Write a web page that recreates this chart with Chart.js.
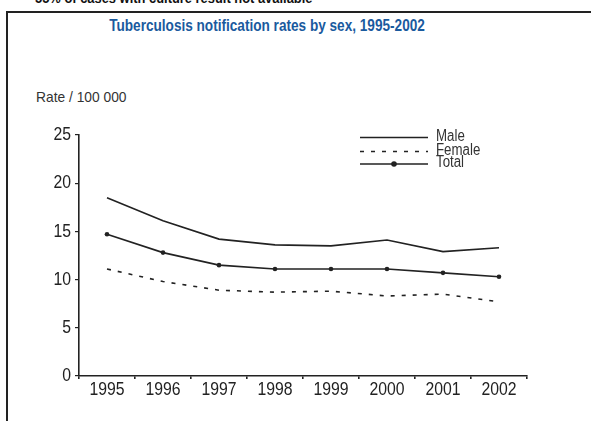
<!DOCTYPE html>
<html>
<head>
<meta charset="utf-8">
<script src="https://cdn.jsdelivr.net/npm/chart.js@4"></script>
<style>
  html, body { margin: 0; padding: 0; background: #fff; }
  #wrap { position: relative; width: 591px; height: 421px; overflow: hidden; background: #fff; }
  #frame { position: absolute; left: 6px; top: 11px; width: 700px; height: 500px; border-left: 2.5px solid #222; border-top: 2.5px solid #222; box-sizing: border-box; }
  .narrow { position: absolute; white-space: nowrap; font-family: "Liberation Sans", Arial, sans-serif; transform: scaleX(0.8); }
  #note { left: 35px; top: -11px; font-weight: bold; font-size: 15px; color: #111; transform-origin: left top; transform: scaleX(0.86); }
  #title { left: 0; width: 534px; top: 16px; text-align: center; font-weight: bold; font-size: 17px; color: #1a5a9e; transform-origin: center top; }
  #ytitle { left: 36px; top: 88px; font-size: 15px; color: #333; transform-origin: left top; transform: scaleX(0.92); }
  canvas { position: absolute; left: 0; top: 0; }
</style>
</head>
<body>
<div id="wrap">
  <div id="note" class="narrow">55% of cases with culture result not available</div>
  <div id="frame"></div>
  <div id="title" class="narrow">Tuberculosis notification rates by sex, 1995-2002</div>
  <div id="ytitle" class="narrow">Rate / 100 000</div>
  <canvas id="c" width="591" height="421"></canvas>
</div>
<script>
const years = ['1995', '1996', '1997', '1998', '1999', '2000', '2001', '2002'];
const male = [18.5, 16.1, 14.2, 13.6, 13.5, 14.1, 12.9, 13.3];
const female = [11.1, 9.8, 8.9, 8.7, 8.8, 8.3, 8.5, 7.7];
const total = [14.7, 12.8, 11.5, 11.1, 11.1, 11.1, 10.7, 10.3];
const yTicks = [0, 5, 10, 15, 20, 25];

const FONT = '"Liberation Sans", Arial, sans-serif';
const INK = '#222';
const SQUEEZE = 0.83;

function narrowText(ctx, text, x, y, align) {
  ctx.save();
  ctx.translate(x, y);
  ctx.scale(SQUEEZE, 1);
  ctx.textAlign = align;
  ctx.fillText(text, 0, 0);
  ctx.restore();
}

const labelPlugin = {
  id: 'narrowLabels',
  afterDraw(chart) {
    const ctx = chart.ctx;
    const xs = chart.scales.x, ys = chart.scales.y;
    ctx.save();
    ctx.fillStyle = '#222';
    ctx.font = '19px ' + FONT;
    ctx.textBaseline = 'middle';
    xs.ticks.forEach((t, i) => {
      narrowText(ctx, xs.getLabelForValue(t.value), xs.getPixelForTick(i), xs.top + 14, 'center');
    });
    ys.ticks.forEach((t, i) => {
      narrowText(ctx, String(t.value), ys.right - 8, ys.getPixelForValue(t.value), 'right');
    });
    ctx.restore();
  }
};

const legendPlugin = {
  id: 'innerLegend',
  afterDraw(chart) {
    const ctx = chart.ctx;
    const x0 = 360, x1 = 428, tx = 436;
    const rows = [137.5, 151.5, 164];
    ctx.save();
    chart.data.datasets.forEach((ds, i) => {
      const y = rows[i];
      ctx.strokeStyle = ds.borderColor;
      ctx.lineWidth = ds.borderWidth;
      ctx.setLineDash(ds.borderDash || []);
      ctx.beginPath();
      ctx.moveTo(x0, y);
      ctx.lineTo(x1, y);
      ctx.stroke();
      ctx.setLineDash([]);
      if (ds.pointRadius > 0) {
        ctx.fillStyle = ds.pointBackgroundColor;
        ctx.beginPath();
        ctx.arc((x0 + x1) / 2, y, ds.pointRadius + 0.5, 0, Math.PI * 2);
        ctx.fill();
      }
      ctx.fillStyle = '#333';
      ctx.font = '16px ' + FONT;
      ctx.textBaseline = 'middle';
      narrowText(ctx, ds.label, tx, y - 1, 'left');
    });
    ctx.restore();
  }
};

new Chart(document.getElementById('c'), {
  type: 'line',
  data: {
    labels: years,
    datasets: [
      { label: 'Male', data: male, borderColor: INK, borderWidth: 1.6, pointRadius: 0, tension: 0, fill: false },
      { label: 'Female', data: female, borderColor: INK, borderWidth: 1.6, borderDash: [4, 7], pointRadius: 0, tension: 0, fill: false },
      { label: 'Total', data: total, borderColor: INK, borderWidth: 1.6, pointRadius: 2.3, pointBackgroundColor: INK, pointBorderColor: INK, pointBorderWidth: 0, tension: 0, fill: false }
    ]
  },
  options: {
    responsive: false,
    animation: false,
    devicePixelRatio: 1,
    layout: { padding: { top: 135, right: 64, left: 0, bottom: 0 } },
    plugins: { legend: { display: false }, title: { display: false }, tooltip: { enabled: false } },
    scales: {
      x: {
        type: 'category',
        offset: true,
        border: { display: true, color: INK, width: 1.6 },
        grid: { display: true, drawOnChartArea: false, drawTicks: true, tickLength: 3, color: INK, lineWidth: 1.6, offset: true },
        ticks: { display: false, autoSkip: false },
        afterFit(s) { s.height = 45; }
      },
      y: {
        min: 0, max: 25,
        afterBuildTicks(s) { s.ticks = yTicks.map(v => ({ value: v })); },
        border: { display: true, color: INK, width: 1.6 },
        grid: { display: true, drawOnChartArea: false, drawTicks: true, tickLength: 4, color: INK, lineWidth: 1.2 },
        ticks: { display: false },
        afterFit(s) { s.width = 79; }
      }
    }
  },
  plugins: [labelPlugin, legendPlugin]
});
</script>
</body>
</html>
